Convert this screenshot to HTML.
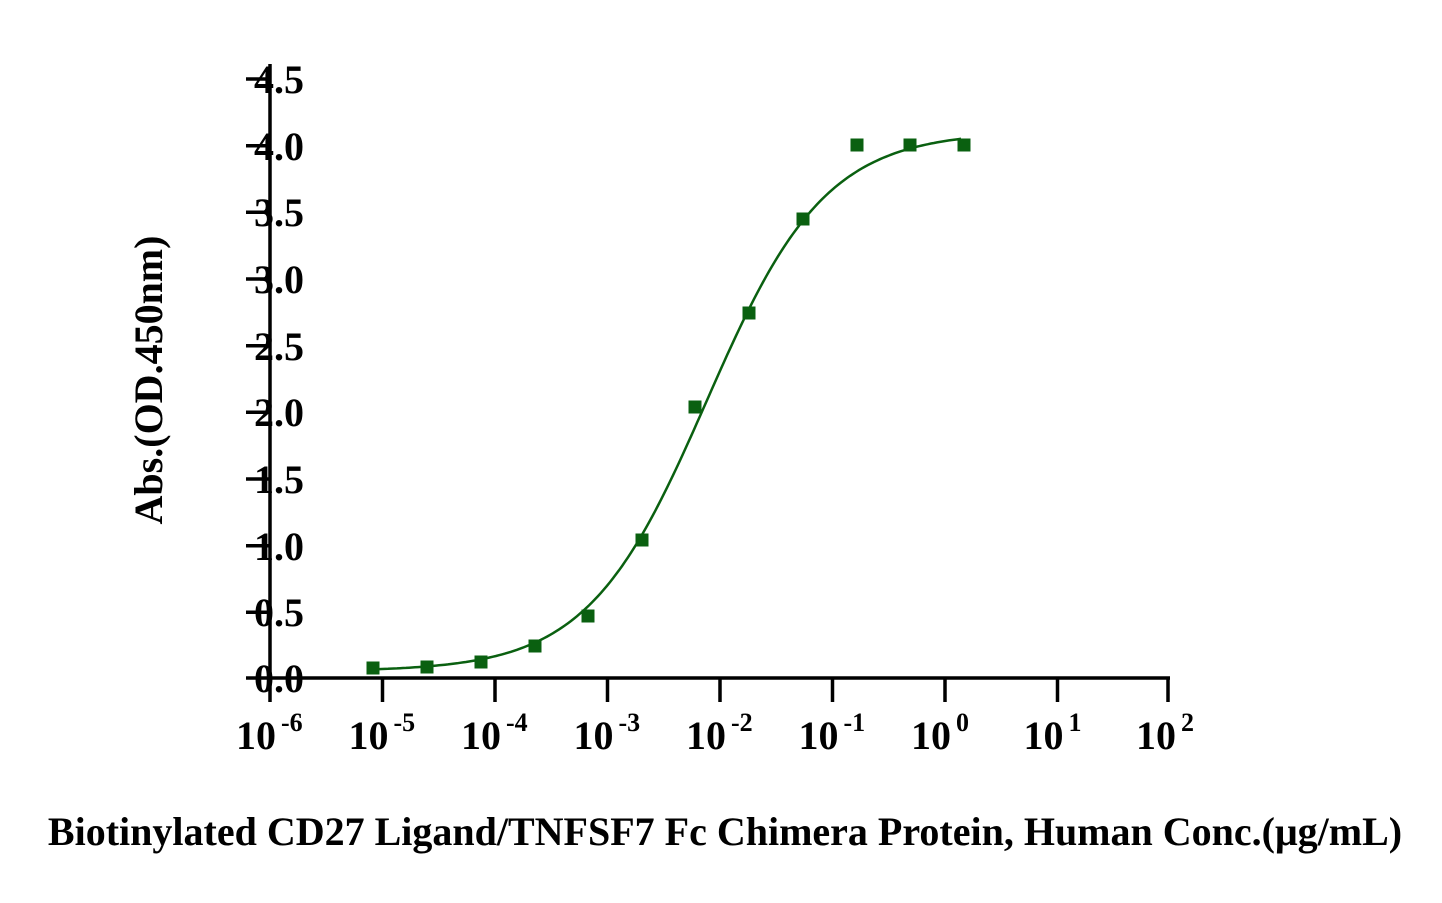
<!DOCTYPE html>
<html><head><style>body{margin:0;background:#fff}</style></head><body>
<svg id="s" width="1442" height="898" xmlns="http://www.w3.org/2000/svg" font-family="Liberation Serif, serif" font-weight="bold">
<g stroke="#000" stroke-width="3.5" fill="none">
<line x1="270" y1="64" x2="270" y2="702"/>
<line x1="246" y1="678" x2="1170" y2="678"/>
<line x1="246" y1="79" x2="270" y2="79"/>
<line x1="246" y1="145.7" x2="270" y2="145.7"/>
<line x1="246" y1="212.3" x2="270" y2="212.3"/>
<line x1="246" y1="279" x2="270" y2="279"/>
<line x1="246" y1="345.7" x2="270" y2="345.7"/>
<line x1="246" y1="412.3" x2="270" y2="412.3"/>
<line x1="246" y1="479" x2="270" y2="479"/>
<line x1="246" y1="545.7" x2="270" y2="545.7"/>
<line x1="246" y1="612.3" x2="270" y2="612.3"/>
<line x1="382.5" y1="678" x2="382.5" y2="702"/>
<line x1="495" y1="678" x2="495" y2="702"/>
<line x1="607.5" y1="678" x2="607.5" y2="702"/>
<line x1="720" y1="678" x2="720" y2="702"/>
<line x1="832.5" y1="678" x2="832.5" y2="702"/>
<line x1="945" y1="678" x2="945" y2="702"/>
<line x1="1057.5" y1="678" x2="1057.5" y2="702"/>
<line x1="1168" y1="678" x2="1168" y2="702"/>
</g>
<g font-size="40" text-anchor="end" fill="#000">
<text x="304" y="93">4.5</text><text x="304" y="160">4.0</text><text x="304" y="226">3.5</text>
<text x="304" y="293">3.0</text><text x="304" y="360">2.5</text><text x="304" y="426">2.0</text>
<text x="304" y="493">1.5</text><text x="304" y="560">1.0</text><text x="304" y="626">0.5</text>
<text x="304" y="692">0.0</text>
</g>
<g id="xl" font-size="40" fill="#000"></g>
<text transform="translate(162,380) rotate(-90)" font-size="40" text-anchor="middle">Abs.(OD.450nm)</text>
<text x="725" y="845" font-size="40" text-anchor="middle">Biotinylated CD27 Ligand/TNFSF7 Fc Chimera Protein, Human Conc.(μg/mL)</text>
<path id="c" fill="none" stroke="#0a6010" stroke-width="2.5"/>
<g id="p" fill="#0a6010"></g>
</svg>
<script>
var ns="http://www.w3.org/2000/svg";
var ex=["-6","-5","-4","-3","-2","-1","0","1","2"];
var xl=document.getElementById("xl");
ex.forEach(function(e,i){var x=270+i*112.5;var t=document.createElementNS(ns,"text");t.setAttribute("x",x-34);t.setAttribute("y",749);t.innerHTML='10<tspan font-size="26" dy="-18" dx="5">'+e+'</tspan>';xl.appendChild(t);});
function y(v){return 678-v*133.33;}
var d="";for(var x=373;x<=962;x+=3){var lc=-6+(x-270)/112.5;var v=0.05+(4.1-0.05)/(1+Math.pow(10,0.82*(-2.12-lc)));d+=(d?"L":"M")+x+","+y(v).toFixed(1);}
document.getElementById("c").setAttribute("d",d);
var px=[373,427,481,535,588,642,695,749,803,857,910,964],py=[668,667,662,646,616,540,407,313,219,145,145,145];
var g=document.getElementById("p");px.forEach(function(x,i){var r=document.createElementNS(ns,"rect");r.setAttribute("x",x-6.5);r.setAttribute("y",py[i]-6.5);r.setAttribute("width",13);r.setAttribute("height",13);g.appendChild(r);});
</script>
</body></html>
